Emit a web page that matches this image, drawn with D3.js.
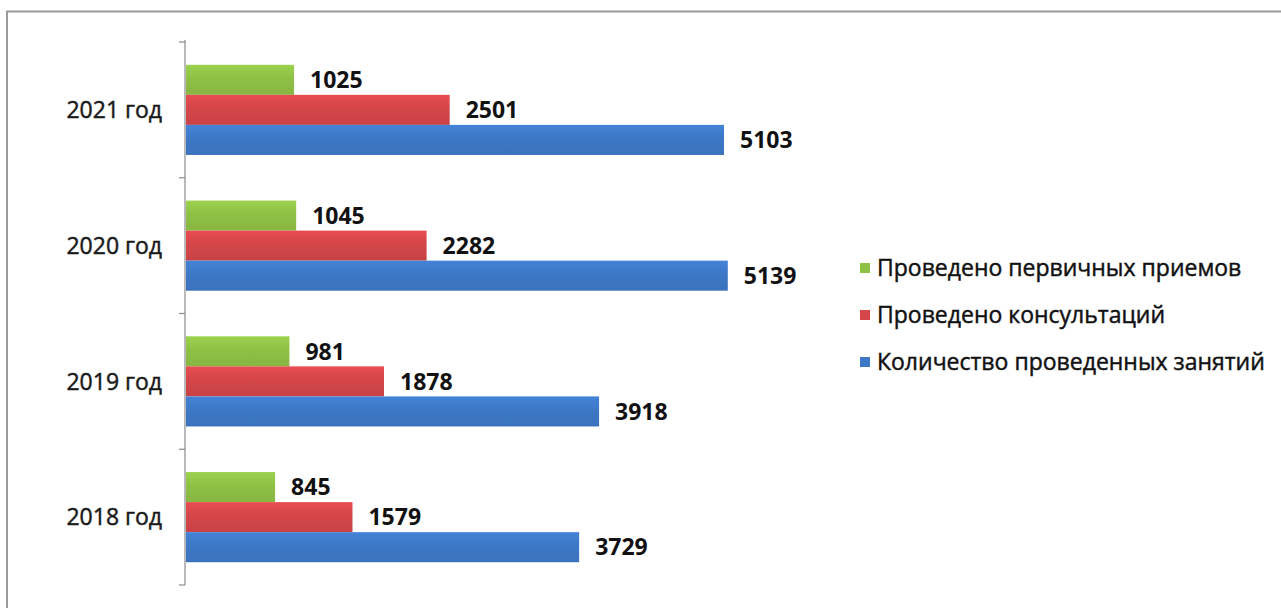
<!DOCTYPE html>
<html><head><meta charset="utf-8">
<script src="https://cdn.jsdelivr.net/npm/d3@7"></script>
<style>html,body{margin:0;padding:0;background:#fff;}svg{display:block;}</style>
</head><body>
<svg id="chart" width="1281" height="608"></svg>
<script>
const categories = ["2021 год", "2020 год", "2019 год", "2018 год"];
const seriesNames = ["Проведено первичных приемов", "Проведено консультаций", "Количество проведенных занятий"];
const primaryVisits = [1025, 1045, 981, 845];
const consultations = [2501, 2282, 1878, 1579];
const lessons = [5103, 5139, 3918, 3729];
const seriesColors = ["#8fc046", "#d4464a", "#3d78c6"];

const seriesValues = [primaryVisits, consultations, lessons];
const svg = d3.select("#chart");

// frame
svg.append("line").attr("x1", 6).attr("x2", 1281).attr("y1", 11.5).attr("y2", 11.5).attr("stroke", "#9a9a9a").attr("stroke-width", 2);
svg.append("line").attr("x1", 7).attr("x2", 7).attr("y1", 11).attr("y2", 608).attr("stroke", "#9a9a9a").attr("stroke-width", 2);

// gradients
const defs = svg.append("defs");
seriesColors.forEach((c, i) => {
  const g = defs.append("linearGradient").attr("id", "g" + i).attr("x1", 0).attr("x2", 0).attr("y1", 0).attr("y2", 1);
  g.append("stop").attr("offset", "0%").attr("stop-color", d3.color(c).brighter(0.25));
  g.append("stop").attr("offset", "45%").attr("stop-color", c);
  g.append("stop").attr("offset", "100%").attr("stop-color", d3.color(c).darker(0.15));
});

const x = d3.scaleLinear().domain([0, 6000]).range([186, 186 + 6000 * 0.10543]);
const y = d3.scaleBand().domain(categories).range([42, 585]).paddingInner(0.336).paddingOuter(0.168);
const ySub = d3.scaleBand().domain(d3.range(seriesNames.length)).range([0, y.bandwidth()]);

const rows = [];
categories.forEach((cat, ci) => {
  seriesValues.forEach((vals, si) => rows.push({cat, si, v: vals[ci]}));
});

svg.append("g").selectAll("rect").data(rows).join("rect")
  .attr("x", x(0))
  .attr("y", d => y(d.cat) + ySub(d.si))
  .attr("width", d => x(d.v) - x(0))
  .attr("height", ySub.bandwidth())
  .attr("fill", d => `url(#g${d.si})`);

svg.append("g").selectAll("text").data(rows).join("text")
  .attr("x", d => x(d.v) + 16)
  .attr("y", d => y(d.cat) + ySub(d.si) + ySub.bandwidth() / 2)
  .attr("dy", "0.36em")
  .attr("font-family", "Open Sans")
  .attr("font-weight", 700)
  .attr("font-size", 23)
  .attr("fill", "#111")
  .text(d => d.v);

// axis line
const ax = svg.append("g").attr("stroke", "#8a8a8a").attr("stroke-width", 1.2);
ax.append("line").attr("x1", 185).attr("x2", 185).attr("y1", 40).attr("y2", 585);
const bounds = categories.map(c => y(c) - y.step() * y.paddingInner() / 2).concat([585]);
ax.selectAll("line.t").data(bounds).join("line").attr("class", "t")
  .attr("x1", 179).attr("x2", 185).attr("y1", d => d).attr("y2", d => d);

// category labels
svg.append("g").selectAll("text").data(categories).join("text")
  .attr("x", 162)
  .attr("y", d => y(d) + y.bandwidth() / 2)
  .attr("dy", "0.36em")
  .attr("text-anchor", "end")
  .attr("font-family", "Open Sans")
  .attr("font-size", 23)
  .attr("fill", "#1a1a1a")
  .attr("stroke", "#1a1a1a")
  .attr("stroke-width", 0.45)
  .text(d => d);

// legend
const lg = svg.append("g").selectAll("g").data(seriesNames).join("g")
  .attr("transform", (d, i) => `translate(860, ${268 + i * 47})`);
lg.append("rect").attr("x", 0).attr("y", -5).attr("width", 10).attr("height", 10)
  .attr("fill", (d, i) => seriesColors[i]);
lg.append("text").attr("x", 17).attr("dy", "0.36em")
  .attr("font-family", "Open Sans").attr("font-size", 23).attr("fill", "#111")
  .attr("stroke", "#111").attr("stroke-width", 0.45)
  .text(d => d);
</script>
</body></html>
